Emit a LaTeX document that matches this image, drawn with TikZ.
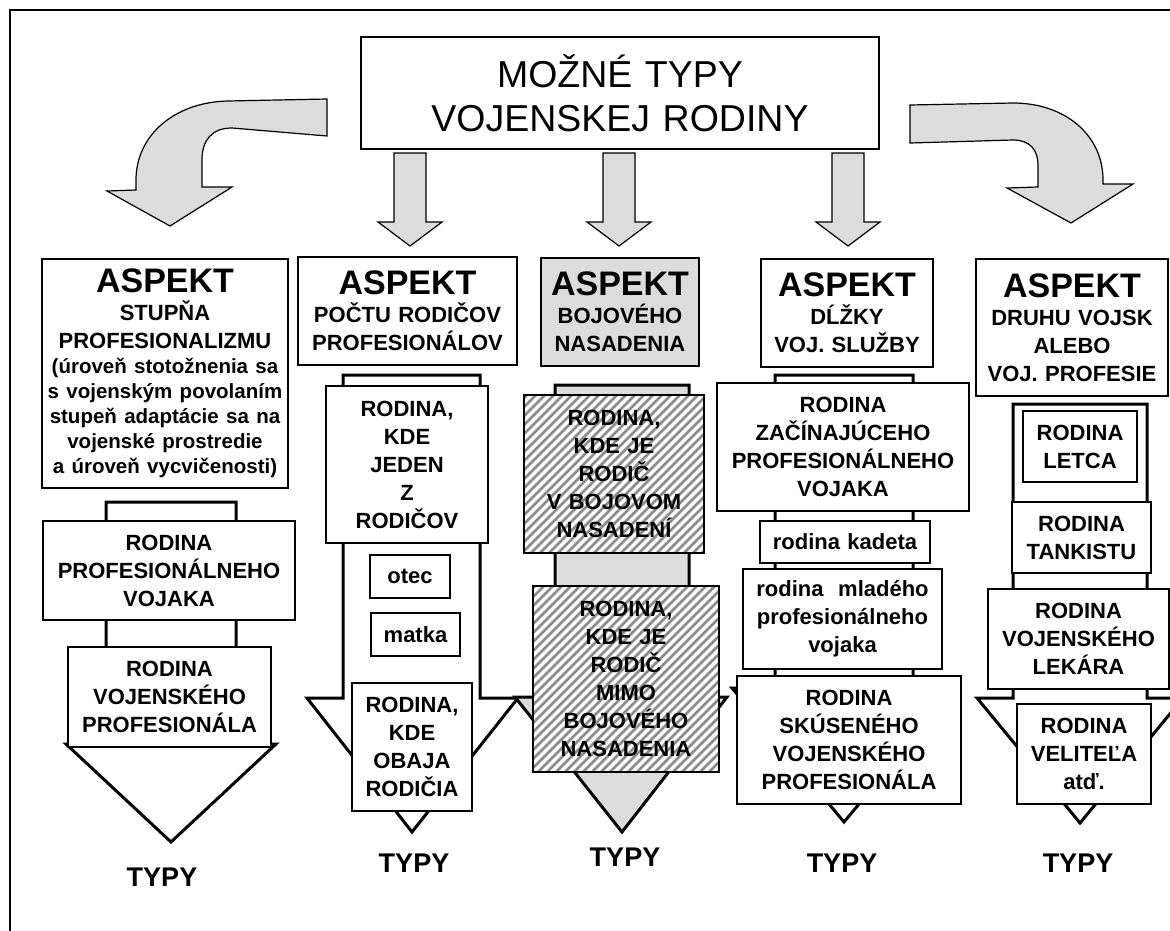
\documentclass[tikz,border=0pt]{standalone}
\usepackage{fontspec}
\setmainfont{Liberation Sans}
\usepackage{tikz}

\definecolor{arrgray}{HTML}{DCDCDC}
\definecolor{hatchgray}{HTML}{8C8C8C}

\newcommand{\aspekt}{{\fontsize{34}{34}\selectfont ASPEKT\par}}
% big white block arrow: [fill] left right top base headleft headright tipx tipy
\newcommand{\bigarrow}[9][white]{%
	\draw[bigarr, fill=#1] (#2,#4) -- (#3,#4) -- (#3,#5) -- (#7,#5) -- (#8,#9) -- (#6,#5) -- (#2,#5) -- cycle;}

\begin{document}
\begin{tikzpicture}[
		x=1pt, y=-1pt,
		box/.style={draw, line width=1.2pt, fill=white, inner sep=0pt, align=center, font=\bfseries\fontsize{22}{28}\selectfont},
		dims/.style 2 args={minimum width=#1pt, minimum height=#2pt, text width=#1pt},
		hatch/.style={path picture={
				\foreach \i in {-220,-211,...,220}
					\draw[line width=2.5pt, hatchgray] ([xshift=\i pt-120pt, yshift=-120pt]path picture bounding box.center) -- ++(240,-240);}},
		grayarr/.style={draw, line width=1.2pt, fill=arrgray},
		bigarr/.style={draw, line width=3pt},
		typy/.style={font=\bfseries\fontsize{27}{27}\selectfont}
		]
		\useasboundingbox (0,0) rectangle (1170,931);
		
		% frame
		\draw[line width=2pt] (1190,10) -- (9.5,10) -- (9.5,950);
		
		% curved arrows
		\draw[grayarr] (327,99) -- (228,101) .. controls (175,102) and (136,135) .. (136,180) -- (136,190)
			-- (107,191) -- (170,226) -- (232,187) -- (202,187) -- (202,160)
			.. controls (202,140) and (212,128) .. (232,128) -- (327,136) -- cycle;
		\draw[grayarr] (910,105) -- (1013,103) .. controls (1065,103) and (1103,135) .. (1103,180) -- (1103,184)
			-- (1133,184) -- (1071,223) -- (1007,188) -- (1038,187) -- (1038,165)
			.. controls (1038,150) and (1030,140) .. (1013,140) -- (910,143) -- cycle;
		
		% straight arrows
		\foreach \x in {410,619,848}
			\draw[grayarr] (\x-16,153) -- (\x+16,153) -- (\x+16,222) -- (\x+32,222) -- (\x,246) -- (\x-32,222) -- (\x-16,222) -- cycle;
		
		% title
		\node[draw, line width=1.2pt, fill=white, dims={518}{112}, align=center, inner sep=0pt,
			font=\fontsize{37.5}{44}\selectfont] (title) at (620,93) {MOŽNÉ TYPY\\VOJENSKEJ RODINY};
		
		% aspects
		\node[box, dims={246}{229}] (asp1) at (165,373.5) {\aspekt STUPŇA\\PROFESIONALIZMU\par
			{\fontsize{20.5}{25}\selectfont (úroveň stotožnenia sa\\s vojenským povolaním\\stupeň adaptácie sa na\\vojenské prostredie\\a úroveň vycvičenosti)\par}};
		\node[box, dims={219}{108}] (asp2) at (407.5,311) {\aspekt POČTU RODIČOV\\PROFESIONÁLOV};
		\node[box, dims={158}{108}, fill=arrgray] (asp3) at (620,312) {\aspekt BOJOVÉHO\\NASADENIA};
		\node[box, dims={172}{108}] (asp4) at (847,313) {\aspekt DĹŽKY\\VOJ. SLUŽBY};
		\node[box, dims={192}{137}] (asp5) at (1072,327.5) {\aspekt DRUHU VOJSK\\ALEBO\\VOJ. PROFESIE};
		
		% big arrows
		\bigarrow{106}{236}{502}{744}{66}{276}{171}{842}
		\bigarrow{343}{480}{375}{698}{307}{518}{412}{832}
		\bigarrow[arrgray]{555}{689}{385}{697}{515}{727}{622}{832}
		\bigarrow{775}{913}{375}{688}{732}{956}{844}{822}
		\bigarrow{1013}{1147}{404}{698}{977}{1183}{1080}{823}
		
		% column 1
		\node[box, dims={252}{99}] (prof) at (169,570.5) {RODINA\\PROFESIONÁLNEHO\\VOJAKA};
		\node[box, dims={203}{100}] (vprof) at (169.5,697) {RODINA\\VOJENSKÉHO\\PROFESIONÁLA};
		
		% column 2
		\node[box, dims={162}{157}] (jeden) at (407,464.5) {RODINA,\\KDE\\JEDEN\\Z\\RODIČOV};
		\node[box, dims={80}{43}] (otec) at (410,576.5) {otec};
		\node[box, dims={89}{43}] (matka) at (415.5,634.5) {matka};
		\node[box, dims={120}{128}] (obaja) at (412,747) {RODINA,\\KDE\\OBAJA\\RODIČIA};
		
		% column 3
		\node[box, hatch, dims={180}{158}] (vboj) at (614,474) {RODINA,\\KDE JE\\RODIČ\\V BOJOVOM\\NASADENÍ};
		\node[box, hatch, dims={186}{186}] (mimo) at (626,679) {RODINA,\\KDE JE\\RODIČ\\MIMO\\BOJOVÉHO\\NASADENIA};
		
		% column 4
		\node[box, dims={252}{128}] (zac) at (843,447) {RODINA\\ZAČÍNAJÚCEHO\\PROFESIONÁLNEHO\\VOJAKA};
		\node[box, dims={170}{42}] (kadet) at (845,542) {rodina kadeta};
		\node[box, dims={199}{100}] (mlad) at (842.5,619) {rodina\ \ mladého\\profesionálneho\\vojaka};
		\node[box, dims={224}{128}] (skus) at (849,740) {RODINA\\SKÚSENÉHO\\VOJENSKÉHO\\PROFESIONÁLA};
		
		% column 5
		\node[box, dims={114}{71}] (letec) at (1080,446.5) {RODINA\\LETCA};
		\node[box, dims={139}{71}] (tank) at (1081.5,537.5) {RODINA\\TANKISTU};
		\node[box, dims={181}{100}] (lekar) at (1078.5,639) {RODINA\\VOJENSKÉHO\\LEKÁRA};
		\node[box, dims={134}{100}] (velit) at (1084,754) {RODINA\\VELITEĽA\\atď.};
		
		% labels
		\node[typy] (typ1) at (162,877) {TYPY};
		\node[typy] (typ2) at (414,863) {TYPY};
		\node[typy] (typ3) at (625,857) {TYPY};
		\node[typy] (typ4) at (842,863) {TYPY};
		\node[typy] (typ5) at (1078,863) {TYPY};
		
	\end{tikzpicture}
\end{document}
